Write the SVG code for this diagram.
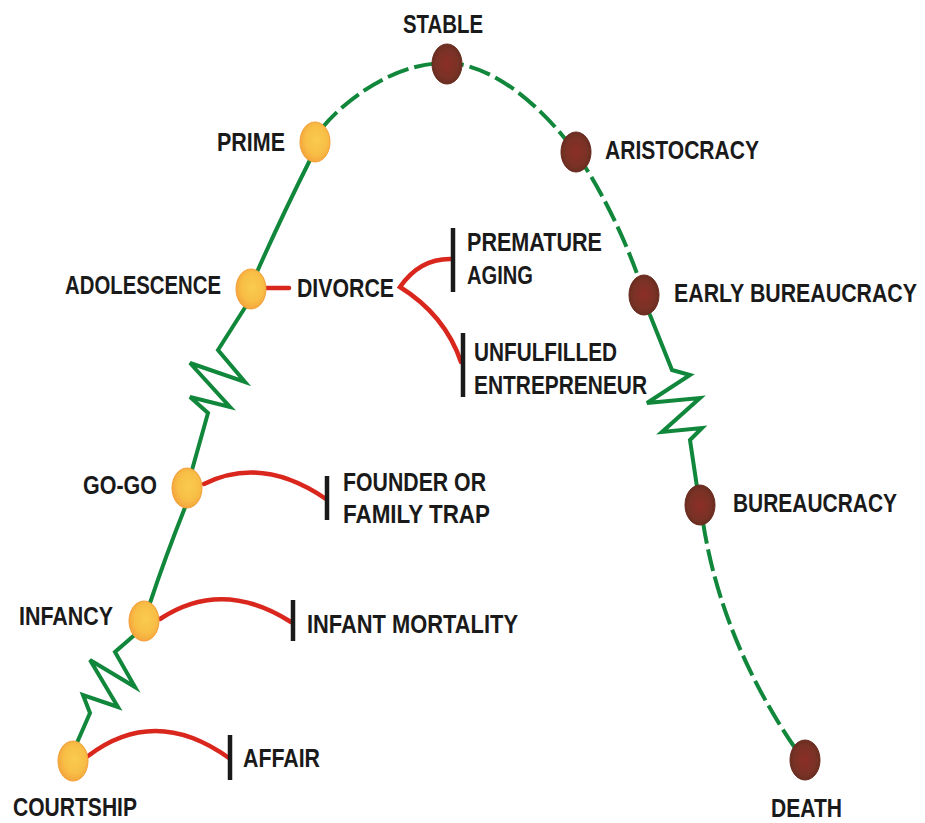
<svg xmlns="http://www.w3.org/2000/svg" width="925" height="823" viewBox="0 0 925 823">
<style>
.lbl{font-family:"Liberation Sans",Arial,sans-serif;font-size:26px;font-weight:bold;fill:#1a1a1a}
.g{fill:none;stroke:#11873b;stroke-width:4;stroke-linejoin:miter;stroke-linecap:round}
.gd{fill:none;stroke:#11873b;stroke-width:4;stroke-dasharray:22 6}
.r{fill:none;stroke:#d9271e;stroke-width:4.5;stroke-linecap:round}
.bar{stroke:#1a1a1a;stroke-width:4.5}
.or{fill:url(#og);stroke:#f4a03a;stroke-width:1}
.br{fill:url(#bg);stroke:#6a2a1e;stroke-width:1}
</style>
<defs>
<radialGradient id="og" cx="0.55" cy="0.45" r="0.6">
<stop offset="0" stop-color="#f9cb4f"/><stop offset="0.6" stop-color="#f8be46"/><stop offset="1" stop-color="#f4a13a"/>
</radialGradient>
<radialGradient id="bg" cx="0.5" cy="0.5" r="0.6">
<stop offset="0" stop-color="#8c2e26"/><stop offset="0.6" stop-color="#7a3226"/><stop offset="1" stop-color="#5e2a1e"/>
</radialGradient>
</defs>
<rect width="925" height="823" fill="#ffffff"/>
<g id="connectors">
<polyline class="g" points="76,745 90,713 83,695 118,707 90,660 135,687 115,652 138,632"/>
<path class="g" d="M150 603 Q166 555 186 505"/>
<polyline class="g" points="192,470 208,413 190,397 230,407 190,363 245,382 218,350 246,306"/>
<path class="g" d="M257 272 Q280 220 310 160"/>
<path class="gd" d="M322 128 C345 100 395 62 447 63 C495 64 545 110 576 153 C605 195 630 250 644 294"/>
<polyline class="g" points="650,315 672,370 690,375 647,403 700,398 662,432 702,428 690,440 697,487"/>
<path class="gd" d="M703 522 C712 580 735 660 795 748"/>
<path class="r" d="M88 756 Q155 705 229 758"/>
<polyline class="bar" points="230,735 230,780"/>
<path class="r" d="M160 619 Q222 578 291 622"/>
<polyline class="bar" points="293,600 293,641"/>
<path class="r" d="M204 484 Q262 455 326 499"/>
<polyline class="bar" points="327,476 327,520"/>
<path class="r" d="M266 288 L289 288"/>
<path class="r" d="M452 259 Q420 258 400 287 Q445 315 461 362"/>
<polyline class="bar" points="453,228 453,292"/>
<polyline class="bar" points="463,333 463,397"/>
</g>
<g id="courtship"><ellipse class="or" cx="73" cy="761" rx="15" ry="20"/><text class="lbl" x="13" y="816" textLength="124" lengthAdjust="spacingAndGlyphs">COURTSHIP</text></g>
<g id="infancy"><ellipse class="or" cx="144" cy="621" rx="15" ry="20"/><text class="lbl" x="19" y="625" textLength="94" lengthAdjust="spacingAndGlyphs">INFANCY</text></g>
<g id="gogo"><ellipse class="or" cx="187" cy="488" rx="15" ry="20"/><text class="lbl" x="83" y="494" textLength="74" lengthAdjust="spacingAndGlyphs">GO-GO</text></g>
<g id="adolescence"><ellipse class="or" cx="251" cy="289" rx="15" ry="20"/><text class="lbl" x="65" y="294" textLength="156" lengthAdjust="spacingAndGlyphs">ADOLESCENCE</text></g>
<g id="prime"><ellipse class="or" cx="315" cy="142" rx="15" ry="20"/><text class="lbl" x="217" y="151" textLength="68" lengthAdjust="spacingAndGlyphs">PRIME</text></g>
<g id="stable"><ellipse class="br" cx="447" cy="64" rx="15" ry="20"/><text class="lbl" x="403" y="33" textLength="80" lengthAdjust="spacingAndGlyphs">STABLE</text></g>
<g id="aristocracy"><ellipse class="br" cx="576" cy="152" rx="15" ry="20"/><text class="lbl" x="605" y="159" textLength="154" lengthAdjust="spacingAndGlyphs">ARISTOCRACY</text></g>
<g id="early-bureaucracy"><ellipse class="br" cx="644" cy="295" rx="15" ry="20"/><text class="lbl" transform="translate(674 302) scale(0.81 1)" x="0" y="0" textLength="300" lengthAdjust="spacingAndGlyphs">EARLY BUREAUCRACY</text></g>
<g id="bureaucracy"><ellipse class="br" cx="700" cy="505" rx="15" ry="20"/><text class="lbl" transform="translate(733 512) scale(0.804 1)" x="0" y="0" textLength="204" lengthAdjust="spacingAndGlyphs">BUREAUCRACY</text></g>
<g id="death"><ellipse class="br" cx="805" cy="760" rx="15" ry="20"/><text class="lbl" x="771" y="817" textLength="71" lengthAdjust="spacingAndGlyphs">DEATH</text></g>
<g id="divorce"><text class="lbl" x="297" y="297" textLength="97" lengthAdjust="spacingAndGlyphs">DIVORCE</text></g>
<g id="premature-aging"><text class="lbl" x="467" y="251" textLength="135" lengthAdjust="spacingAndGlyphs">PREMATURE</text><text class="lbl" x="467" y="284" textLength="66" lengthAdjust="spacingAndGlyphs">AGING</text></g>
<g id="unfulfilled-entrepreneur"><text class="lbl" x="474" y="361" textLength="143" lengthAdjust="spacingAndGlyphs">UNFULFILLED</text><text class="lbl" x="474" y="394" textLength="173" lengthAdjust="spacingAndGlyphs">ENTREPRENEUR</text></g>
<g id="founder-trap"><text class="lbl" x="343" y="491" textLength="143" lengthAdjust="spacingAndGlyphs">FOUNDER OR</text><text class="lbl" x="343" y="523" textLength="147" lengthAdjust="spacingAndGlyphs">FAMILY TRAP</text></g>
<g id="infant-mortality"><text class="lbl" x="307" y="633" textLength="211" lengthAdjust="spacingAndGlyphs">INFANT MORTALITY</text></g>
<g id="affair"><text class="lbl" x="243" y="767" textLength="77" lengthAdjust="spacingAndGlyphs">AFFAIR</text></g>
</svg>
